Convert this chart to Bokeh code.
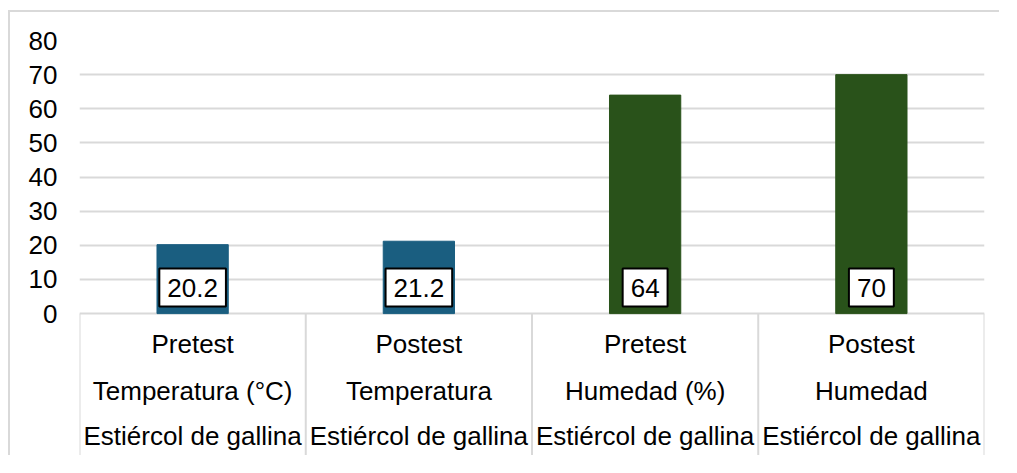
from bokeh.plotting import figure
from bokeh.models import ColumnDataSource, FixedTicker, Range1d
from bokeh.core.properties import value
from bokeh.embed import file_html
from bokeh.resources import INLINE

# ---- data ----
fase = ["Pretest", "Postest", "Pretest", "Postest"]
variable = ["Temperatura (°C)", "Temperatura", "Humedad (%)", "Humedad"]
tratamiento = ["Estiércol de gallina", "Estiércol de gallina", "Estiércol de gallina", "Estiércol de gallina"]
valores = [20.2, 21.2, 64, 70]
y_ticks = [0, 10, 20, 30, 40, 50, 60, 70, 80]

# ---- styles ----
BLUE = "#1A5E80"
GREEN = "#29521A"
GRID = "#D9D9D9"
FONT = "Liberation Sans"
colors = [BLUE if v.startswith("Temperatura") else GREEN for v in variable]

n = len(valores)
xc = [i + 0.5 for i in range(n)]

src = ColumnDataSource(dict(
    x=xc, top=valores, color=colors,
    label=[f"{v:g}" for v in valores],
    fase=fase, variable=variable, trat=tratamiento,
))

W, H = 991, 445
TOP, LEFT, RIGHT = 28, 69, 17
ZERO_PX = 301.1
px_per_unit = (ZERO_PX - TOP) / 80.0
y_bottom = -(H - ZERO_PX) / px_per_unit

p = figure(width=W, height=H, output_backend="svg", toolbar_location=None,
           x_range=Range1d(0, n), y_range=Range1d(y_bottom, 80),
           min_border_left=LEFT, min_border_right=RIGHT, min_border_top=TOP, min_border_bottom=0)
p.styles = {"border-left": "2px solid #D9D9D9", "border-top": "2px solid #D9D9D9",
            "margin-left": "8px", "margin-top": "10px"}
p.outline_line_color = None
p.background_fill_color = "white"
p.border_fill_color = "white"

p.xaxis.visible = False
p.xgrid.visible = False
p.ygrid.ticker = FixedTicker(ticks=y_ticks)
p.ygrid.grid_line_color = GRID
p.ygrid.grid_line_width = 2

ax = p.yaxis[0]
ax.ticker = FixedTicker(ticks=y_ticks)
ax.axis_line_color = None
ax.major_tick_line_color = None
ax.minor_tick_line_color = None
ax.major_tick_out = 0
ax.major_tick_in = 0
ax.major_label_standoff = 22
ax.major_label_text_font = FONT
ax.major_label_text_font_size = "26px"
ax.major_label_text_color = "black"

# category separators below the axis
sep_x = list(range(n + 1))
p.segment(x0=sep_x, y0=[0] * (n + 1), x1=sep_x, y1=[y_bottom] * (n + 1),
          line_color=GRID, line_width=2)

p.vbar(x="x", top="top", width=0.315, color="color", source=src)

# data labels (inside base)
p.text(x="x", y=7.63, text="label", source=src,
       text_font=value(FONT), text_font_size="26px", text_color="black",
       text_align="center", text_baseline="middle",
       background_fill_color="white", border_line_color="black", border_line_width=2,
       padding=(8, 10))

# category rows
for col, yy in (("fase", -9.05), ("variable", -22.6), ("trat", -35.9)):
    p.text(x="x", y=yy, text=col, source=src,
           text_font=value(FONT), text_font_size="26px", text_color="black",
           text_align="center", text_baseline="middle")

open("out.html", "w").write(file_html(p, INLINE))
